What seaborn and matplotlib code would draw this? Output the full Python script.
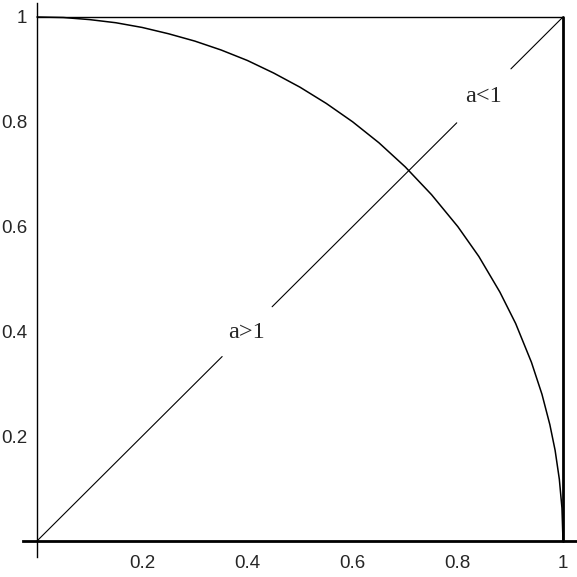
import numpy as np
import pandas as pd
import matplotlib
matplotlib.use("Agg")
import matplotlib.pyplot as plt
import seaborn as sns

# quarter circle, points
circle_x = [0.0, 0.05, 0.1, 0.15, 0.2, 0.25, 0.3, 0.35, 0.4, 0.45, 0.5, 0.55,
            0.6, 0.65, 0.7, 0.75, 0.8, 0.84, 0.88, 0.91, 0.94, 0.96, 0.975,
            0.985, 0.993, 0.998, 1.0]
circle_y = [1.0, 0.999, 0.995, 0.989, 0.98, 0.968, 0.954, 0.937, 0.917, 0.893,
            0.866, 0.835, 0.8, 0.76, 0.714, 0.661, 0.6, 0.543, 0.475, 0.415,
            0.341, 0.28, 0.222, 0.173, 0.118, 0.063, 0.0]

# diagonal y = x, broken where the labels sit
diag_segments = [(0.0, 0.352), (0.447, 0.798), (0.901, 1.0)]

# top edge and right edge
top_x = [0.0, 1.0]
top_y = [1.0, 1.0]
right_x = [1.0, 1.0]
right_y = [0.0, 1.0]

labels = ["a>1", "a<1"]
label_pos = [(0.398, 0.398), (0.848, 0.848)]

tick_vals = [0.2, 0.4, 0.6, 0.8, 1.0]
tick_text = ["0.2", "0.4", "0.6", "0.8", "1"]

sns.set_style("white")
plt.rcParams["font.family"] = ["Liberation Sans", "DejaVu Sans"]

fig = plt.figure(figsize=(5.77, 5.77), dpi=100)
ax = fig.add_axes([0, 0, 1, 1])

circle = pd.DataFrame({"x": circle_x, "y": circle_y})
sns.lineplot(data=circle, x="x", y="y", sort=False, estimator=None,
             color="black", linewidth=1.1, ax=ax)

for a, b in diag_segments:
    sns.lineplot(x=[a, b], y=[a, b], sort=False, estimator=None,
                 color="black", linewidth=0.8, ax=ax)

sns.lineplot(x=top_x, y=top_y, sort=False, estimator=None,
             color="black", linewidth=1.0, ax=ax)
sns.lineplot(x=right_x, y=right_y, sort=False, estimator=None,
             color="black", linewidth=2.0, ax=ax)

for txt, (px, py) in zip(labels, label_pos):
    ax.text(px, py, txt, ha="center", va="center", fontsize=17.5,
            family=["Liberation Serif", "DejaVu Serif"])

ax.set_xlim(-0.0703, 1.0266)
ax.set_ylim(-0.0687, 1.0324)

# axes through the origin, Mathematica style
ax.spines["left"].set_position(("data", 0))
ax.spines["bottom"].set_position(("data", 0))
ax.spines["left"].set_bounds(-0.030, 1.027)
ax.spines["bottom"].set_bounds(-0.027, 1.03)
ax.spines["top"].set_visible(False)
ax.spines["right"].set_visible(False)
ax.spines["left"].set_linewidth(1.0)
ax.spines["bottom"].set_linewidth(2.0)
ax.spines["left"].set_color("black")
ax.spines["bottom"].set_color("black")

ax.set_xticks(tick_vals)
ax.set_xticklabels(tick_text)
ax.set_yticks(tick_vals)
ax.set_yticklabels(tick_text)
ax.set_xticks(np.arange(0.05, 1.0, 0.05), minor=True)
ax.set_yticks(np.arange(0.05, 1.0, 0.05), minor=True)
ax.tick_params(which="major", direction="in", length=3.0, width=1.2,
               color="black", labelsize=13.5)
ax.tick_params(axis="x", which="major", pad=10)
ax.tick_params(axis="y", which="major", pad=7)
ax.tick_params(which="minor", direction="in", length=2.0, width=1.0,
               color="black")
ax.set_xlabel("")
ax.set_ylabel("")
ax.patch.set_alpha(0)

fig.savefig("out.png", dpi=100, facecolor="white")
